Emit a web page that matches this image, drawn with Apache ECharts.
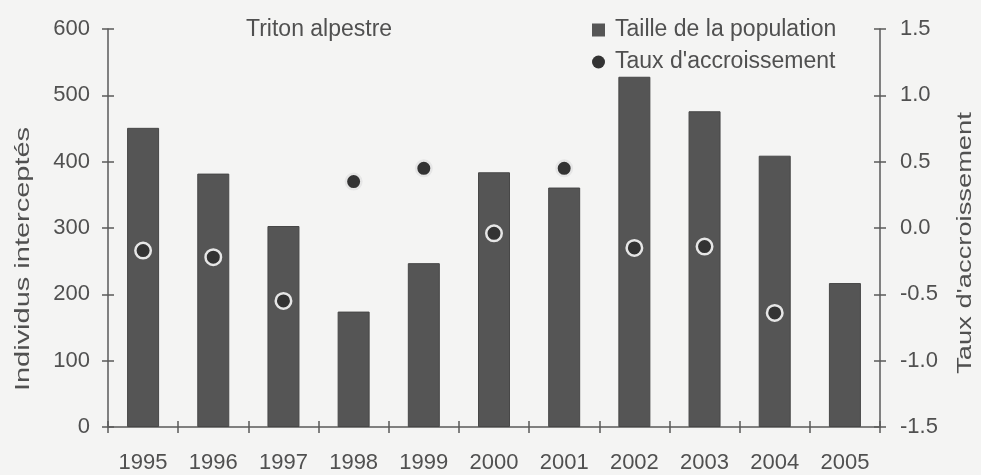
<!DOCTYPE html>
<html>
<head>
<meta charset="utf-8">
<script src="https://cdn.jsdelivr.net/npm/echarts@6/dist/echarts.min.js"></script>
<style>
html,body{margin:0;padding:0;background:#f4f4f3;}
#c{width:981px;height:475px;}
</style>
</head>
<body>
<div id="c"></div>
<script>
const years = ['1995','1996','1997','1998','1999','2000','2001','2002','2003','2004','2005'];
const population = [451, 382, 303, 174, 247, 384, 361, 528, 476, 409, 217];
const rate = [-0.17, -0.22, -0.55, 0.35, 0.45, -0.04, 0.45, -0.15, -0.14, -0.64, null];
const leftTicks = [0, 600, 100];
const rightTicks = [-1.5, 1.5, 0.5];

const FONT = '"Liberation Sans", Arial, sans-serif';
const TXT = '#505050';
const AX = '#5a5a5a';

const chart = echarts.init(document.getElementById('c'), null, {renderer: 'canvas'});
const lineStyle = {color: AX, width: 1.5};
chart.setOption({
  backgroundColor: '#f4f4f3',
  animation: false,
  title: {
    text: 'Triton alpestre', left: 246, top: 18, padding: 0,
    textStyle: {fontFamily: FONT, fontSize: 23, fontWeight: 'normal', color: TXT}
  },
  legend: {
    orient: 'vertical', left: 592, top: 18, padding: 0,
    itemWidth: 13, itemHeight: 13, itemGap: 8,
    textStyle: {fontFamily: FONT, fontSize: 23, color: TXT, lineHeight: 24, padding: [0,0,0,5]},
    data: [
      {name: 'Taille de la population', icon: 'rect', itemStyle: {color: '#555', borderWidth: 0}},
      {name: "Taux d'accroissement", icon: 'circle', itemStyle: {color: '#333', borderWidth: 0}}
    ]
  },
  grid: {left: 108, right: 101, top: 29, bottom: 48},
  xAxis: [
    {
      type: 'category', data: years, position: 'bottom', boundaryGap: true,
      axisLine: {onZero: false, lineStyle: lineStyle},
      axisTick: {show: true, inside: false, length: 6, lineStyle: lineStyle},
      axisLabel: {fontFamily: FONT, fontSize: 22, color: TXT, margin: 25}
    },
    {
      type: 'category', data: years, position: 'bottom', boundaryGap: true,
      axisLine: {show: false, onZero: false},
      axisTick: {show: true, inside: true, length: 6, lineStyle: lineStyle},
      axisLabel: {show: false}
    }
  ],
  yAxis: [
    {
      type: 'value', position: 'left', min: leftTicks[0], max: leftTicks[1], interval: leftTicks[2],
      axisLine: {show: true, onZero: false, lineStyle: lineStyle},
      axisTick: {show: true, inside: false, length: 6, lineStyle: lineStyle},
      axisLabel: {fontFamily: FONT, fontSize: 22, color: TXT, margin: 18},
      splitLine: {show: false}
    },
    {
      type: 'value', position: 'right', min: rightTicks[0], max: rightTicks[1], interval: rightTicks[2],
      axisLine: {show: true, onZero: false, lineStyle: lineStyle},
      axisTick: {show: true, inside: false, length: 6, lineStyle: lineStyle},
      axisLabel: {fontFamily: FONT, fontSize: 22, color: TXT, margin: 20, formatter: v => v.toFixed(1)},
      splitLine: {show: false}
    },
    {
      type: 'value', position: 'left', min: leftTicks[0], max: leftTicks[1], interval: leftTicks[2],
      axisLine: {show: false, onZero: false},
      axisTick: {show: true, inside: true, length: 6, lineStyle: lineStyle},
      axisLabel: {show: false}, splitLine: {show: false}
    },
    {
      type: 'value', position: 'right', min: rightTicks[0], max: rightTicks[1], interval: rightTicks[2],
      axisLine: {show: false, onZero: false},
      axisTick: {show: true, inside: true, length: 6, lineStyle: lineStyle},
      axisLabel: {show: false}, splitLine: {show: false}
    }
  ],
  graphic: [
    {
      type: 'text', x: 23, y: 259, rotation: Math.PI / 2, scaleX: 1.38,
      style: {text: 'Individus interceptés', font: '21px ' + FONT, fill: TXT,
              textAlign: 'center', textVerticalAlign: 'middle'}
    },
    {
      type: 'text', x: 965, y: 243, rotation: Math.PI / 2, scaleX: 1.3,
      style: {text: "Taux d'accroissement", font: '21px ' + FONT, fill: TXT,
              textAlign: 'center', textVerticalAlign: 'middle'}
    }
  ],
  series: [
    {
      name: 'Taille de la population', type: 'bar', data: population,
      xAxisIndex: 0, yAxisIndex: 0, barWidth: 32,
      itemStyle: {color: '#555', borderColor: '#474747', borderWidth: 1}
    },
    {
      name: "Taux d'accroissement", type: 'scatter', data: rate,
      xAxisIndex: 0, yAxisIndex: 1, symbol: 'circle', symbolSize: 15.5, z: 5,
      itemStyle: {color: '#333', borderColor: '#e6e6e6', borderWidth: 2.5, opacity: 1}
    }
  ]
});
</script>
</body>
</html>
